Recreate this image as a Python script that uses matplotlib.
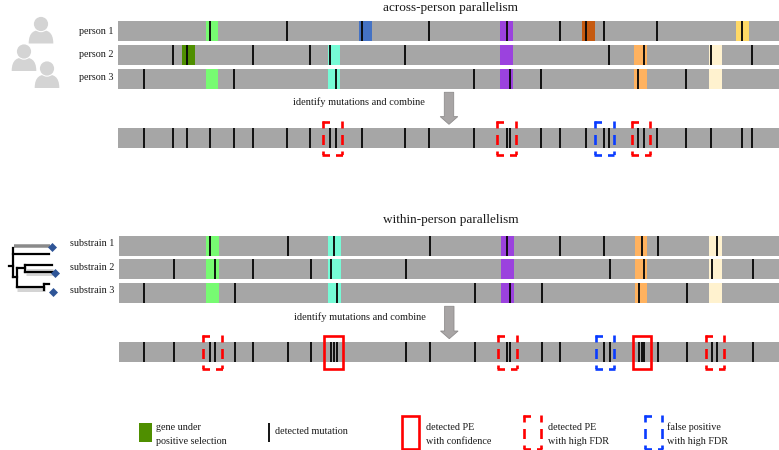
import matplotlib
matplotlib.use("Agg")
import matplotlib.pyplot as plt
from matplotlib.patches import Rectangle, Circle, PathPatch, Polygon
from matplotlib.path import Path

plt.rcParams['font.family'] = ['Liberation Serif', 'DejaVu Serif']
plt.rcParams['lines.scale_dashes'] = False

# ---- data: positions along the genome track ----
title_across = "across-person parallelism"
title_within = "within-person parallelism"
combine_label = "identify mutations and combine"
person_labels = ["person 1", "person 2", "person 3"]
substrain_labels = ["substrain 1", "substrain 2", "substrain 3"]

person1_mut = [209.7, 287.3, 362, 429, 507, 559.7, 586, 603.7, 657.3, 742]
person2_mut = [173, 187, 252.7, 310, 330, 405, 609, 643.7, 711.3, 752]
person3_mut = [143.7, 234.3, 336, 473.7, 509.7, 541.3, 638.3, 686]
person1_genes = [(205.7, "#77fb72"), (359, "#4472c4"), (500.3, "#9b42de"), (582, "#c55a11"), (736, "#ffd966")]
person2_genes = [(182, "#4f8f00"), (327.7, "#76fbd6"), (500.3, "#9b42de"), (634, "#ffb25f"), (709, "#fff2cf")]
person3_genes = [(205.7, "#77fb72"), (327.7, "#76fbd6"), (500.3, "#9b42de"), (634, "#ffb25f"), (709, "#fff2cf")]

sub1_mut = [210.3, 288, 334.3, 429.7, 507.3, 560.3, 604.3, 641.7, 658, 717.3]
sub2_mut = [173.7, 215, 253.3, 311, 330.7, 405.7, 609.7, 644.3, 712, 752.7]
sub3_mut = [144.3, 235, 337, 474.7, 510.3, 542, 639, 686.7]
sub_genes = [(206, "#77fb72"), (328, "#76fbd6"), (501, "#9b42de"), (634.7, "#ffb25f"), (709.3, "#fff2cf")]

across_boxes = [(323.3, "dash", "#ff0000"), (497.3, "dash", "#ff0000"), (595, "dash", "#0a3cff"), (631.7, "dash", "#ff0000")]
within_boxes = [(203.3, "dash", "#ff0000"), (324.3, "solid", "#ff0000"), (498, "dash", "#ff0000"),
                (595.7, "dash", "#0a3cff"), (632.7, "solid", "#ff0000"), (705.7, "dash", "#ff0000")]

# ---- style ----
GREY = "#a6a6a6"
GENE_W = 12.6
BOX_W = 18.6
BOX_H = 33.4
PX = 0.72
MUT_LW = 1.35
TXT = "#1a1a1a"

fig = plt.figure(figsize=(7.79, 4.5), dpi=100)
ax = fig.add_axes([0, 0, 1, 1])
ax.set_xlim(0, 779)
ax.set_ylim(450, 0)
ax.axis("off")


def track(x0, y0, y1, muts, genes=()):
    ax.add_patch(Rectangle((x0, y0), 779 - x0, y1 - y0, fc=GREY, ec="none", zorder=1))
    for x, c in genes:
        ax.add_patch(Rectangle((x, y0), GENE_W, y1 - y0, fc=c, ec="none", zorder=2))
    ax.vlines(muts, y0, y1, color="#0a0a0a", lw=MUT_LW, zorder=3)


def seg(xa, ya, xb, yb, c, dashes):
    l, = ax.plot([xa, xb], [ya, yb], color=c, lw=1.9, dash_capstyle="butt", zorder=4)
    l.set_dashes([d * PX for d in dashes])


def box(x, y, style, c, w=BOX_W, h=BOX_H):
    if style == "solid":
        ax.add_patch(Rectangle((x, y), w, h, fc="none", ec=c, lw=1.9, zorder=4))
        return
    v = (7, 6.5, 10, 6.5, 3.6, 50)
    seg(x, y - 0.9, x, y + h + 0.9, c, v)
    seg(x + w, y - 0.9, x + w, y + h + 0.9, c, v)
    seg(x - 0.9, y, x + w, y, c, (7.5, 50))
    seg(x - 0.9, y + h, x + w + 0.9, y + h, c, (7.5, 6, 7, 50))


def arrow(xc, y0, y1):
    pts = [(xc - 4.7, y0), (xc + 4.7, y0), (xc + 4.7, y1 - 7.7), (xc + 8.8, y1 - 7.7),
           (xc, y1), (xc - 8.8, y1 - 7.7), (xc - 4.7, y1 - 7.7)]
    ax.add_patch(Polygon(pts, closed=True, fc="#a8a5a5", ec="#8f8d8d", lw=0.6, zorder=3))


def person(cx, head_y):
    c = "#d4d4d4"
    t, b = head_y + 6, head_y + 19.5
    verts = [(cx - 12.3, b), (cx - 12.3, t + 1.5), (cx - 6, t), (cx, t),
             (cx + 6, t), (cx + 12.3, t + 1.5), (cx + 12.3, b), (cx - 12.3, b)]
    codes = [Path.MOVETO, Path.CURVE4, Path.CURVE4, Path.CURVE4,
             Path.CURVE4, Path.CURVE4, Path.CURVE4, Path.CLOSEPOLY]
    ax.add_patch(PathPatch(Path(verts, codes), fc=c, ec="none", zorder=1))
    ax.add_patch(Circle((cx, head_y), 8.2, fc="white", ec="none", zorder=2))
    ax.add_patch(Circle((cx, head_y), 7.1, fc=c, ec="none", zorder=3))


def lbl(x, y, s, ha="left", size=7.3):
    ax.text(x, y, s, ha=ha, va="center", fontsize=size, color=TXT)


# ---- across-person panel ----
ax.text(450.5, 7.5, title_across, ha="center", va="center", fontsize=9.5, color=TXT)
track(118, 21, 41, person1_mut, person1_genes)
track(118, 45, 65, person2_mut, person2_genes)
track(118, 69, 88.5, person3_mut, person3_genes)
for lab, y in zip(person_labels, [31, 54.5, 78]):
    lbl(114, y, lab, ha="right")
lbl(293, 102.5, combine_label, size=7.45)
arrow(449, 92.3, 124.3)
track(118, 128, 148, sorted(person1_mut + person2_mut + person3_mut))
for x, s, c in across_boxes:
    box(x, 121.9, s, c)

# ---- within-person panel ----
ax.text(450.5, 220.5, title_within, ha="center", va="center", fontsize=9.5, color=TXT)
track(118.7, 235.7, 255.7, sub1_mut, sub_genes)
track(118.7, 259.3, 279, sub2_mut, sub_genes)
track(118.7, 283.3, 303, sub3_mut, sub_genes)
for lab, y in zip(substrain_labels, [243.7, 267, 290.5]):
    lbl(114, y, lab, ha="right")
lbl(294, 317, combine_label, size=7.45)
arrow(449.3, 306.3, 338.7)
track(118.7, 342.3, 362, sorted(sub1_mut + sub2_mut + sub3_mut))
for x, s, c in within_boxes:
    box(x, 335.7, s, c)

# ---- icons ----
person(41, 24)
person(24, 51.5)
person(47, 68.5)

for (xa, ya, xb, yb, c, w) in [(14, 246, 50, 246, "#8a8a8a", 3.5), (26, 272, 53, 272, "#d4d4d4", 7),
                               (17, 289, 45, 289, "#d4d4d4", 5)]:
    ax.plot([xa, xb], [ya, yb], color=c, lw=w * PX, solid_capstyle="butt", zorder=1)
tree = [(9, 266.3, 13.3, 266.3), (13.3, 247.7, 13.3, 277.3), (13.3, 254, 49.3, 254), (13.3, 277.3, 16.7, 277.3),
        (16.7, 268.3, 16.7, 286.7), (16.7, 268.3, 25, 268.3), (25, 265, 25, 272.3), (25, 265, 51.7, 265),
        (25, 272.3, 52.7, 272.3), (16.7, 286.7, 44.3, 286.7), (44.3, 284.3, 44.3, 290), (44.3, 284.3, 49, 284.3)]
for xa, ya, xb, yb in tree:
    ax.plot([xa, xb], [ya, yb], color="black", lw=1.6, solid_capstyle="projecting", zorder=2)
for x, y in [(52.3, 247.3), (55, 273.3), (52.7, 291.7)]:
    ax.plot([x], [y], marker=(4, 0, 0), ms=6.5, mfc="#2f5597", mec="none", zorder=5)

# ---- legend ----
ax.add_patch(Rectangle((139.3, 422.7), 12.7, 19.6, fc="#4f8f00", ec="none"))
lbl(156, 427.5, "gene under")
lbl(156, 441, "positive selection")
ax.vlines([269.3], 423, 442, color="#0a0a0a", lw=MUT_LW)
lbl(275, 431, "detected mutation")
box(401.7, 416, "solid", "#ff0000", w=17.5, h=33)
lbl(426, 427.5, "detected PE")
lbl(426, 441, "with confidence")
box(524, 416, "dash", "#ff0000", w=17.5, h=33)
lbl(548, 427.5, "detected PE")
lbl(548, 441, "with high FDR")
box(645, 416, "dash", "#0a3cff", w=17.5, h=33)
lbl(667, 427.5, "false positive")
lbl(667, 441, "with high FDR")

fig.savefig("out.png", dpi=100)
